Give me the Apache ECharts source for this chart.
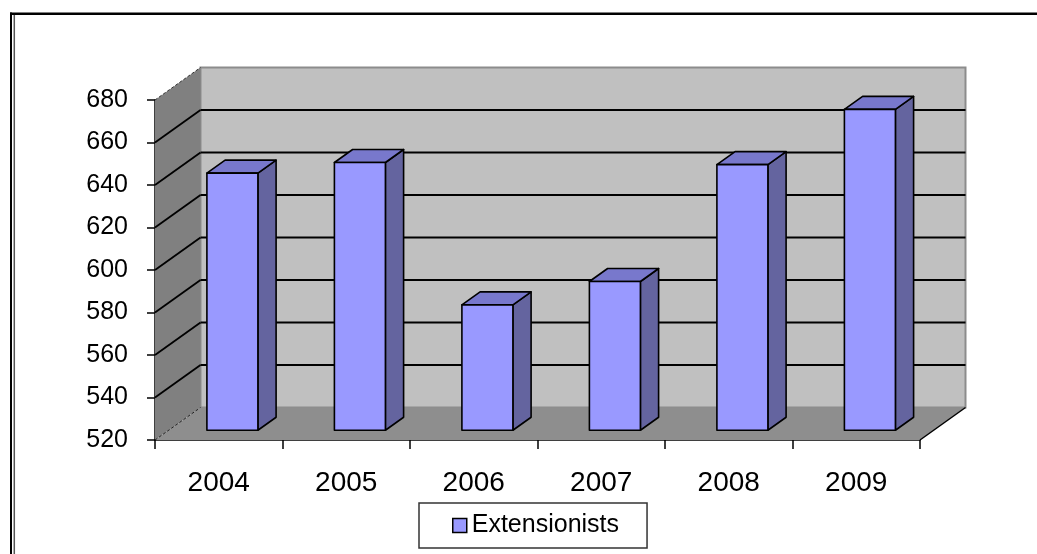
<!DOCTYPE html>
<html>
<head>
<meta charset="utf-8">
<style>
  html, body { margin: 0; padding: 0; background: #fff; }
  #chart { width: 1037px; height: 554px; }
</style>
<script src="https://cdn.jsdelivr.net/npm/echarts@6/dist/echarts.min.js"></script>
</head>
<body>
<div id="chart"></div>
<script>
// Years on the category axis
const categories = ['2004', '2005', '2006', '2007', '2008', '2009'];
// Number of extensionists per year
const extensionists = [641, 646, 579, 590, 645, 671];
// Value-axis tick labels
const yTicks = [520, 540, 560, 580, 600, 620, 640, 660, 680];
const seriesName = 'Extensionists';

// Oblique depth of the 3-D box (pixels to the back plane)
const DEPTH = [45.5, -32.5];
const FONT = '"Liberation Sans", Arial, sans-serif';

const yMin = yTicks[0];
const yMax = yTicks[yTicks.length - 1];
const yStep = yTicks[1] - yTicks[0];

function line(x1, y1, x2, y2, style) {
  return { type: 'line', shape: { x1, y1, x2, y2 }, style: Object.assign({ stroke: '#000', lineWidth: 1.8 }, style), silent: true };
}
function poly(points, style) {
  return { type: 'polygon', shape: { points }, style, silent: true };
}

// Back wall, side wall, floor and their gridlines
function renderWalls(params, api) {
  const cs = params.coordSys;
  const x0 = cs.x, x1 = cs.x + cs.width;
  const yt = cs.y, yb = cs.y + cs.height;
  const [dx, dy] = DEPTH;
  const children = [];
  children.push(poly([[x0 + dx, yt + dy], [x1 + dx, yt + dy], [x1 + dx, yb + dy], [x0 + dx, yb + dy]],
    { fill: '#c0c0c0', stroke: '#8c8c8c', lineWidth: 2 }));
  children.push(poly([[x0, yt], [x0 + dx, yt + dy], [x0 + dx, yb + dy], [x0, yb]],
    { fill: '#808080', stroke: null }));
  children.push(poly([[x0, yb], [x1, yb], [x1 + dx, yb + dy], [x0 + dx, yb + dy]],
    { fill: '#8e8e8e', stroke: null }));
  yTicks.forEach(function (v) {
    if (v === yMin || v === yMax) return;
    const y = api.coord([0, v])[1];
    children.push(line(x0 + dx, y + dy, x1 + dx, y + dy));
    children.push(line(x0, y, x0 + dx, y + dy));
  });
  children.push(line(x0, yt, x0 + dx, yt + dy, { stroke: '#333', lineWidth: 1, lineDash: [3, 2] }));
  children.push(line(x0, yb, x0 + dx, yb + dy, { stroke: '#222', lineWidth: 1, lineDash: [3, 2] }));
  children.push(line(x1, yb, x1 + dx, yb + dy, { lineWidth: 1.5 }));
  return { type: 'group', children };
}

// A 3-D column: front face, top face and right side face
function renderBar(params, api) {
  const idx = api.value(0);
  const val = api.value(1);
  const base = api.coord([idx, yMin]);
  const top = api.coord([idx, val]);
  const w = api.size([1, 0])[0] * 0.4;
  const fx = DEPTH[0] * 0.3, fy = DEPTH[1] * 0.3;
  const bx = DEPTH[0] * 0.7, by = DEPTH[1] * 0.7;
  const xl = base[0] - w / 2, xr = base[0] + w / 2;
  const y0 = base[1], y1 = top[1];
  const edge = { stroke: '#000', lineWidth: 1.6, lineJoin: 'round' };
  return {
    type: 'group',
    children: [
      poly([[xr + fx, y1 + fy], [xr + bx, y1 + by], [xr + bx, y0 + by], [xr + fx, y0 + fy]],
        Object.assign({ fill: '#64649f' }, edge)),
      poly([[xl + fx, y1 + fy], [xr + fx, y1 + fy], [xr + bx, y1 + by], [xl + bx, y1 + by]],
        Object.assign({ fill: '#7878cc' }, edge)),
      poly([[xl + fx, y1 + fy], [xr + fx, y1 + fy], [xr + fx, y0 + fy], [xl + fx, y0 + fy]],
        Object.assign({ fill: '#9999ff' }, edge))
    ]
  };
}

const chart = echarts.init(document.getElementById('chart'), null, { renderer: 'canvas' });
chart.setOption({
  backgroundColor: '#fff',
  animation: false,
  textStyle: { fontFamily: FONT },
  grid: { left: 155, right: 117, top: 100, bottom: 114, containLabel: false },
  xAxis: {
    type: 'category',
    data: categories,
    boundaryGap: true,
    axisLine: { show: true, lineStyle: { color: '#000', width: 1.5 } },
    axisTick: { show: true, alignWithLabel: false, length: 9, lineStyle: { color: '#000', width: 1.5 } },
    axisLabel: { color: '#000', fontSize: 28, fontFamily: FONT, margin: 29 },
    splitLine: { show: false }
  },
  yAxis: {
    type: 'value',
    min: yMin,
    max: yMax,
    interval: yStep,
    axisLine: { show: true, lineStyle: { color: '#000', width: 1.5 } },
    axisTick: { show: true, length: 8, lineStyle: { color: '#000', width: 1.5 } },
    axisLabel: { color: '#000', fontSize: 25, fontFamily: FONT, margin: 27 },
    splitLine: { show: false }
  },
  legend: {
    show: true,
    left: 419,
    top: 503,
    orient: 'horizontal',
    padding: [10, 28, 10, 33],
    backgroundColor: '#fff',
    borderColor: '#333',
    borderWidth: 1.5,
    borderRadius: 0,
    itemWidth: 14,
    itemHeight: 14,
    textStyle: { color: '#000', fontSize: 25, fontFamily: FONT },
    data: [{ name: seriesName, icon: 'rect', itemStyle: { color: '#9999ff', borderColor: '#000', borderWidth: 1.5 } }]
  },
  graphic: [
    { type: 'line', shape: { x1: 10, y1: 13.8, x2: 1037, y2: 13.8 }, style: { stroke: '#000', lineWidth: 2.5 }, z: 100 },
    { type: 'line', shape: { x1: 11, y1: 12.5, x2: 11, y2: 554 }, style: { stroke: '#000', lineWidth: 2 }, z: 100 },
    { type: 'line', shape: { x1: 14.3, y1: 15, x2: 14.3, y2: 554 }, style: { stroke: '#555', lineWidth: 1.5 }, z: 100 }
  ],
  series: [
    {
      name: 'walls',
      type: 'custom',
      clip: false,
      silent: true,
      z: 1,
      data: [[0, yMin]],
      encode: { x: 0, y: 1 },
      renderItem: renderWalls
    },
    {
      name: seriesName,
      type: 'custom',
      clip: false,
      z: 3,
      itemStyle: { color: '#9999ff' },
      data: extensionists.map(function (v, i) { return [i, v]; }),
      encode: { x: 0, y: 1 },
      renderItem: renderBar
    }
  ]
});
</script>
</body>
</html>
